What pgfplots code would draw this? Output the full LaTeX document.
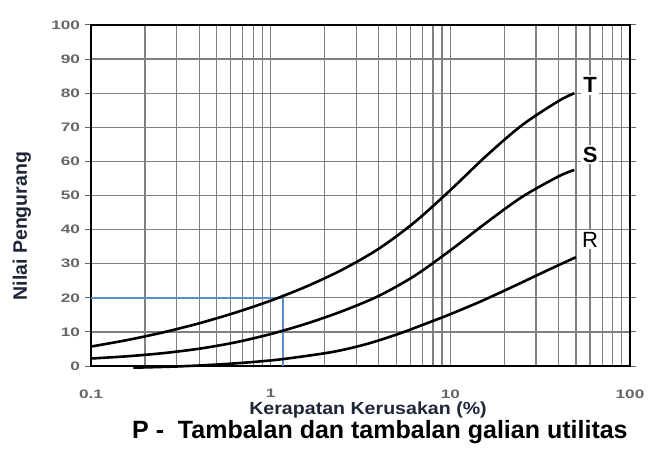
\documentclass[border=0pt]{standalone}
\usepackage{pgfplots}
\pgfplotsset{compat=1.18}
\usepackage{fontspec}
\setmainfont{Liberation Sans}
\definecolor{gridgray}{HTML}{808080}
\definecolor{tickgray}{HTML}{666666}
\definecolor{navy}{HTML}{1E2638}
\definecolor{lineblue}{HTML}{5A8FCB}
\begin{document}
\begin{tikzpicture}[x=1pt,y=1pt]
\useasboundingbox[fill=white] (0,0) rectangle (658,453);
\begin{axis}[
  at={(91pt,87pt)}, anchor=south west,
  scale only axis, width=539pt, height=341pt,
  xmode=log, log basis x=10,
  xmin=0.1, xmax=100, ymin=0, ymax=100,
  xtick={0.1,1,10,100}, xticklabels={0.1,1,10,100},
  minor xtick={0.2,0.3,0.4,0.5,0.6,0.7,0.8,0.9,2,3,4,5,6,7,8,9,20,30,40,50,60,70,80,90},
  ytick={0,10,...,100},
  xmajorgrids, xminorgrids, ymajorgrids,
  major grid style={gridgray, line width=1.3pt},
  minor grid style={gridgray, line width=1.3pt},
  axis line style={black, line width=2pt},
  every x tick/.style={draw=none},
  minor tick length=0pt,
  tick align=outside, major tick length=6pt,
  every y tick/.style={tickgray, line width=1pt},
  /pgf/number format/assume math mode=true,
  ticklabel style={font=\bfseries\fontsize{12.3}{14}\selectfont, text=tickgray, xscale=1.4},
  xticklabel style={yshift=-14pt},
  xlabel={Kerapatan Kerusakan (\%)},
  xlabel style={at={(axis description cs:0.514,-0.129)}, anchor=center,
    font=\bfseries\fontsize{17.5}{20}\selectfont, text=navy, xscale=1.12},
  ylabel={Nilai Pengurang},
  ylabel style={at={(axis description cs:-0.128,0.41)}, anchor=center,
    font=\bfseries\fontsize{19.5}{22}\selectfont, text=navy},
  title={P -~ Tambalan dan tambalan galian utilitas},
  title style={at={(axis description cs:0.536,-0.211)}, anchor=center,
    font=\bfseries\fontsize{25}{28}\selectfont, text=black},
  clip=false,
]
\addplot[lineblue, line width=1.8pt] coordinates {(0.1,20) (1.17,20) (1.17,0)};
% T
\addplot[black, line width=2.6pt, smooth] coordinates {
 (0.1,5.7) (0.158,7.58) (0.251,9.84) (0.398,12.49) (0.631,15.6) (1,19.16)
 (1.585,23.34) (2.512,28.28) (3.981,34.33) (6.31,42.12) (10,51.57)
 (15.85,61.62) (25.12,70.67) (39.81,77.63) (49,80)};
% S
\addplot[black, line width=2.6pt, smooth] coordinates {
 (0.1,2.2) (0.158,2.84) (0.251,3.76) (0.398,5.05) (0.631,6.89) (1,9.37)
 (1.585,12.44) (2.512,16.11) (3.981,20.51) (6.31,26.41) (10,33.91)
 (15.85,42.01) (25.12,49.61) (39.81,55.54) (49,57.5)};
% R
\addplot[black, line width=2.6pt, smooth] coordinates {
 (0.172,-0.5) (0.3,-0.14) (0.48,0.37) (0.74,1.03) (1.17,2.03) (2.2,4.1) (3.4,6.4)
 (5.2,9.5) (7.9,13.1) (10,15.2) (15,19.1) (23,23.6) (35.5,28.3) (50,31.9)};
\node[fill=white, inner sep=2pt, font=\bfseries\fontsize{22}{24}\selectfont] at (axis cs:60,82.4) {T};
\node[fill=white, inner sep=2pt, font=\bfseries\fontsize{22}{24}\selectfont] at (axis cs:60,62) {S};
\node[fill=white, inner sep=2pt, font=\fontsize{22}{24}\selectfont] at (axis cs:60,37) {R};
\end{axis}
\end{tikzpicture}
\end{document}
